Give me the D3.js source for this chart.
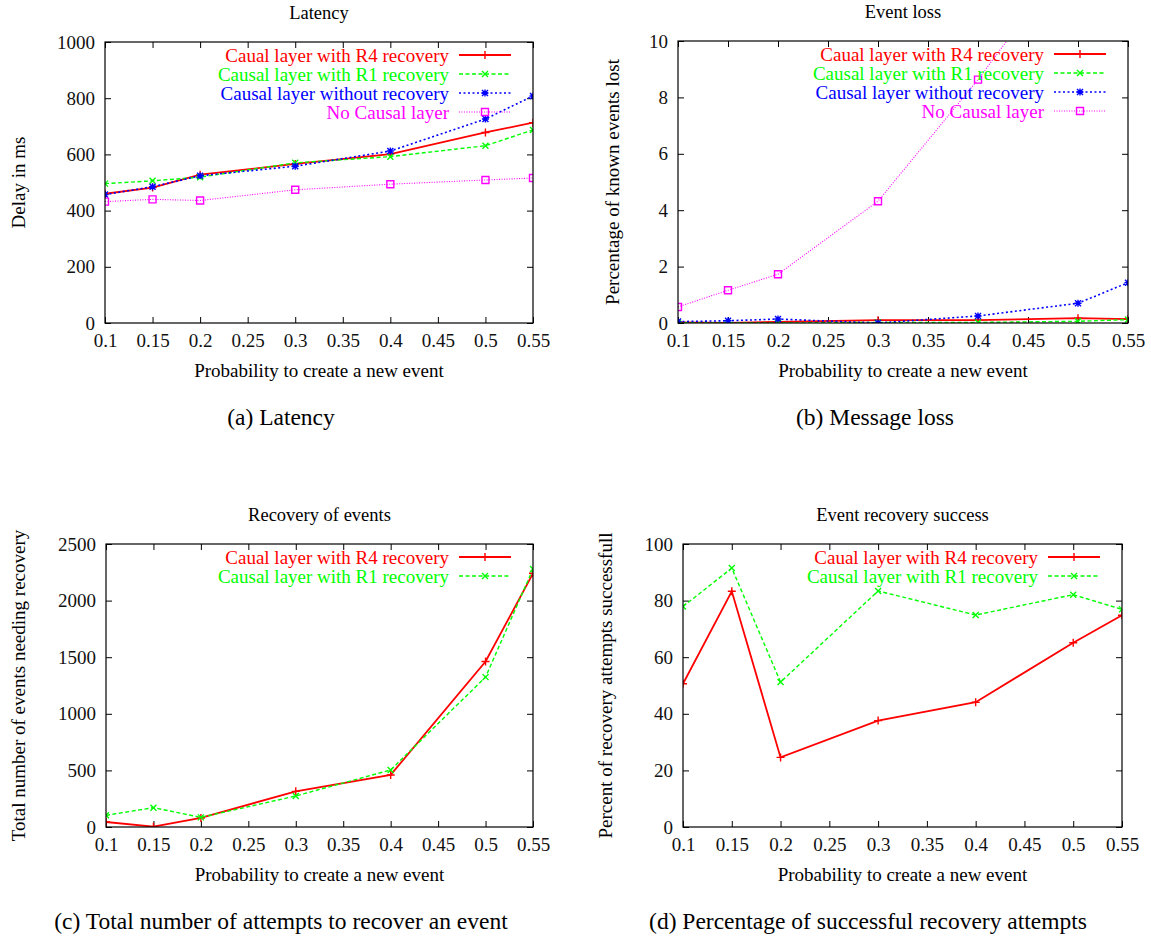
<!DOCTYPE html>
<html>
<head>
<meta charset="utf-8">
<script src="https://cdn.jsdelivr.net/npm/d3@7"></script>
<style>
  body { margin: 0; background: #fff; }
  svg text { font-family: "Liberation Serif", "Times New Roman", serif !important; }
</style>
</head>
<body>
<div id="chart"></div>
<script>
// x positions shared by all four plots
const probs = [0.1, 0.15, 0.2, 0.3, 0.4, 0.5, 0.55];
const xTicks = [0.1, 0.15, 0.2, 0.25, 0.3, 0.35, 0.4, 0.45, 0.5, 0.55];
const xTickLabels = ["0.1", "0.15", "0.2", "0.25", "0.3", "0.35", "0.4", "0.45", "0.5", "0.55"];

const seriesNames = ["Caual layer with R4 recovery", "Causal layer with R1 recovery",
                     "Causal layer without recovery", "No Causal layer"];

// (a) latency, ms
const latencyR4 = [460, 482, 528, 566, 601, 678, 713];
const latencyR1 = [496, 506, 519, 570, 592, 631, 687];
const latencyNoRec = [457, 485, 524, 558, 612, 726, 808];
const latencyNoCausal = [432, 440, 436, 474, 494, 509, 516];
const latencyTicks = [0, 200, 400, 600, 800, 1000];

// (b) event loss, %
const lossR4 = [0.02, 0.0, 0.04, 0.1, 0.1, 0.17, 0.14];
const lossR1 = [0.01, 0.0, 0.0, 0.02, 0.02, 0.06, 0.12];
const lossNoRec = [0.05, 0.08, 0.14, 0.0, 0.25, 0.7, 1.43];
const lossNoCausal = [0.57, 1.16, 1.73, 4.32, 8.63, 13.4, 17.5];
const lossTicks = [0, 2, 4, 6, 8, 10];

// (c) events needing recovery
const recoveryR4 = [44, 3, 80, 315, 460, 1462, 2241];
const recoveryR1 = [103, 171, 85, 274, 504, 1324, 2279];
const recoveryTicks = [0, 500, 1000, 1500, 2000, 2500];

// (d) recovery success, %
const successR4 = [50.6, 83.3, 24.6, 37.6, 44.1, 65.1, 74.8];
const successR1 = [77.9, 91.5, 51.2, 83.4, 74.9, 82.1, 76.9];
const successTicks = [0, 20, 40, 60, 80, 100];

const styles = [
  { color: "#ff0000", width: 1.8, dash: null, mark: "M-4,0H4M0,-4V4" },
  { color: "#00ff00", width: 1.4, dash: "4,2.5", mark: "M-3,-3L3,3M-3,3L3,-3" },
  { color: "#0000ff", width: 1.6, dash: "2,2.5", mark: "M-3.5,0H3.5M0,-3.5V3.5M-3,-3L3,3M-3,3L3,-3" },
  { color: "#ff00ff", width: 1.1, dash: "1,1.5", mark: "M-3.5,-3.5h7v7h-7z" }
];

const FONT = "Liberation Serif, Times New Roman, serif";

const svg = d3.select("#chart").append("svg")
    .attr("width", 1151)
    .attr("height", 936)
    .attr("font-family", FONT);

let clipId = 0;

function drawPanel(box, title, yLabel, caption, yTicks, series) {
  const x = d3.scaleLinear().domain([0.1, 0.55]).range([box.left, box.right]);
  const y = d3.scaleLinear().domain([yTicks[0], yTicks[yTicks.length - 1]]).range([box.bottom, box.top]);
  const g = svg.append("g");

  // inward ticks on all four sides
  g.append("g").attr("transform", `translate(0,${box.bottom})`)
    .call(d3.axisBottom(x).tickValues(xTicks).tickFormat((d, i) => xTickLabels[i])
      .tickSize(-6).tickSizeOuter(0).tickPadding(11));
  g.append("g").attr("transform", `translate(0,${box.top})`)
    .call(d3.axisTop(x).tickValues(xTicks).tickFormat("").tickSize(-6).tickSizeOuter(0));
  g.append("g").attr("transform", `translate(${box.left},0)`)
    .call(d3.axisLeft(y).tickValues(yTicks).tickFormat(d3.format("d"))
      .tickSize(-6).tickSizeOuter(0).tickPadding(10));
  g.append("g").attr("transform", `translate(${box.right},0)`)
    .call(d3.axisRight(y).tickValues(yTicks).tickFormat("").tickSize(-6).tickSizeOuter(0));
  g.selectAll(".domain").remove();
  g.selectAll("g").attr("font-family", FONT);
  g.selectAll(".tick line").attr("stroke", "#000").attr("stroke-width", 1);
  g.selectAll(".tick text").attr("font-size", 19).attr("fill", "#111");

  const cid = "clip" + (clipId++);
  g.append("clipPath").attr("id", cid).append("rect")
    .attr("x", box.left).attr("y", box.top)
    .attr("width", box.right - box.left).attr("height", box.bottom - box.top);

  const line = d3.line().x((d, i) => x(probs[i])).y(d => y(d));
  const plot = g.append("g").attr("clip-path", `url(#${cid})`);

  // legend
  const lg = g.append("g");
  series.forEach((vals, k) => {
    const st = styles[k];
    const ly = box.top + 13 + k * 19;
    lg.append("text").attr("x", box.right - 84).attr("y", ly).attr("dy", "0.35em")
      .attr("text-anchor", "end").attr("font-size", 19).attr("fill", st.color)
      .text(seriesNames[k]);
    lg.append("line").attr("x1", box.right - 74).attr("x2", box.right - 22)
      .attr("y1", ly).attr("y2", ly)
      .attr("stroke", st.color).attr("stroke-width", st.width)
      .attr("stroke-dasharray", st.dash);
    lg.append("path").attr("transform", `translate(${box.right - 48},${ly})`)
      .attr("d", st.mark).attr("fill", "none").attr("stroke", st.color).attr("stroke-width", 1.4);
  });

  series.forEach((vals, k) => {
    const st = styles[k];
    plot.append("path").datum(vals)
      .attr("d", line)
      .attr("fill", "none")
      .attr("stroke", st.color)
      .attr("stroke-width", st.width)
      .attr("stroke-dasharray", st.dash);
    plot.selectAll(null).data(vals.map((v, i) => [probs[i], v]).filter(p => p[1] <= yTicks[yTicks.length - 1]))
      .enter().append("path")
      .attr("transform", (p) => `translate(${x(p[0])},${y(p[1])})`)
      .attr("d", st.mark)
      .attr("fill", "none")
      .attr("stroke", st.color)
      .attr("stroke-width", 1.4);
  });

  g.append("rect")
    .attr("x", box.left).attr("y", box.top)
    .attr("width", box.right - box.left).attr("height", box.bottom - box.top)
    .attr("fill", "none").attr("stroke", "#000").attr("stroke-width", 1.2);

  const cx = (box.left + box.right) / 2;
  g.append("text").attr("x", cx).attr("y", box.top - 29).attr("dy", "0.35em")
    .attr("text-anchor", "middle").attr("font-size", 18.5).text(title);
  g.append("text").attr("x", cx).attr("y", box.bottom + 47).attr("dy", "0.35em")
    .attr("text-anchor", "middle").attr("font-size", 19).text("Probability to create a new event");
  g.append("text")
    .attr("transform", `translate(${box.yLabelX},${(box.top + box.bottom) / 2}) rotate(-90)`)
    .attr("dy", "0.35em").attr("text-anchor", "middle").attr("font-size", 19).text(yLabel);
  g.append("text").attr("x", box.capX).attr("y", box.bottom + 94).attr("dy", "0.35em")
    .attr("text-anchor", "middle").attr("font-size", 23.5).text(caption);
}

drawPanel({ left: 105, right: 533, top: 42, bottom: 323, yLabelX: 18, capX: 281 },
  "Latency", "Delay in ms", "(a) Latency", latencyTicks,
  [latencyR4, latencyR1, latencyNoRec, latencyNoCausal]);

drawPanel({ left: 678, right: 1128, top: 41, bottom: 323, yLabelX: 612, capX: 875 },
  "Event loss", "Percentage of known events lost", "(b) Message loss", lossTicks,
  [lossR4, lossR1, lossNoRec, lossNoCausal]);

drawPanel({ left: 106, right: 533, top: 544, bottom: 827, yLabelX: 18, capX: 281 },
  "Recovery of events", "Total number of events needing recovery",
  "(c) Total number of attempts to recover an event", recoveryTicks,
  [recoveryR4, recoveryR1]);

drawPanel({ left: 683, right: 1122, top: 544, bottom: 827, yLabelX: 605, capX: 868 },
  "Event recovery success", "Percent of recovery attempts successfull",
  "(d) Percentage of successful recovery attempts", successTicks,
  [successR4, successR1]);
</script>
</body>
</html>
